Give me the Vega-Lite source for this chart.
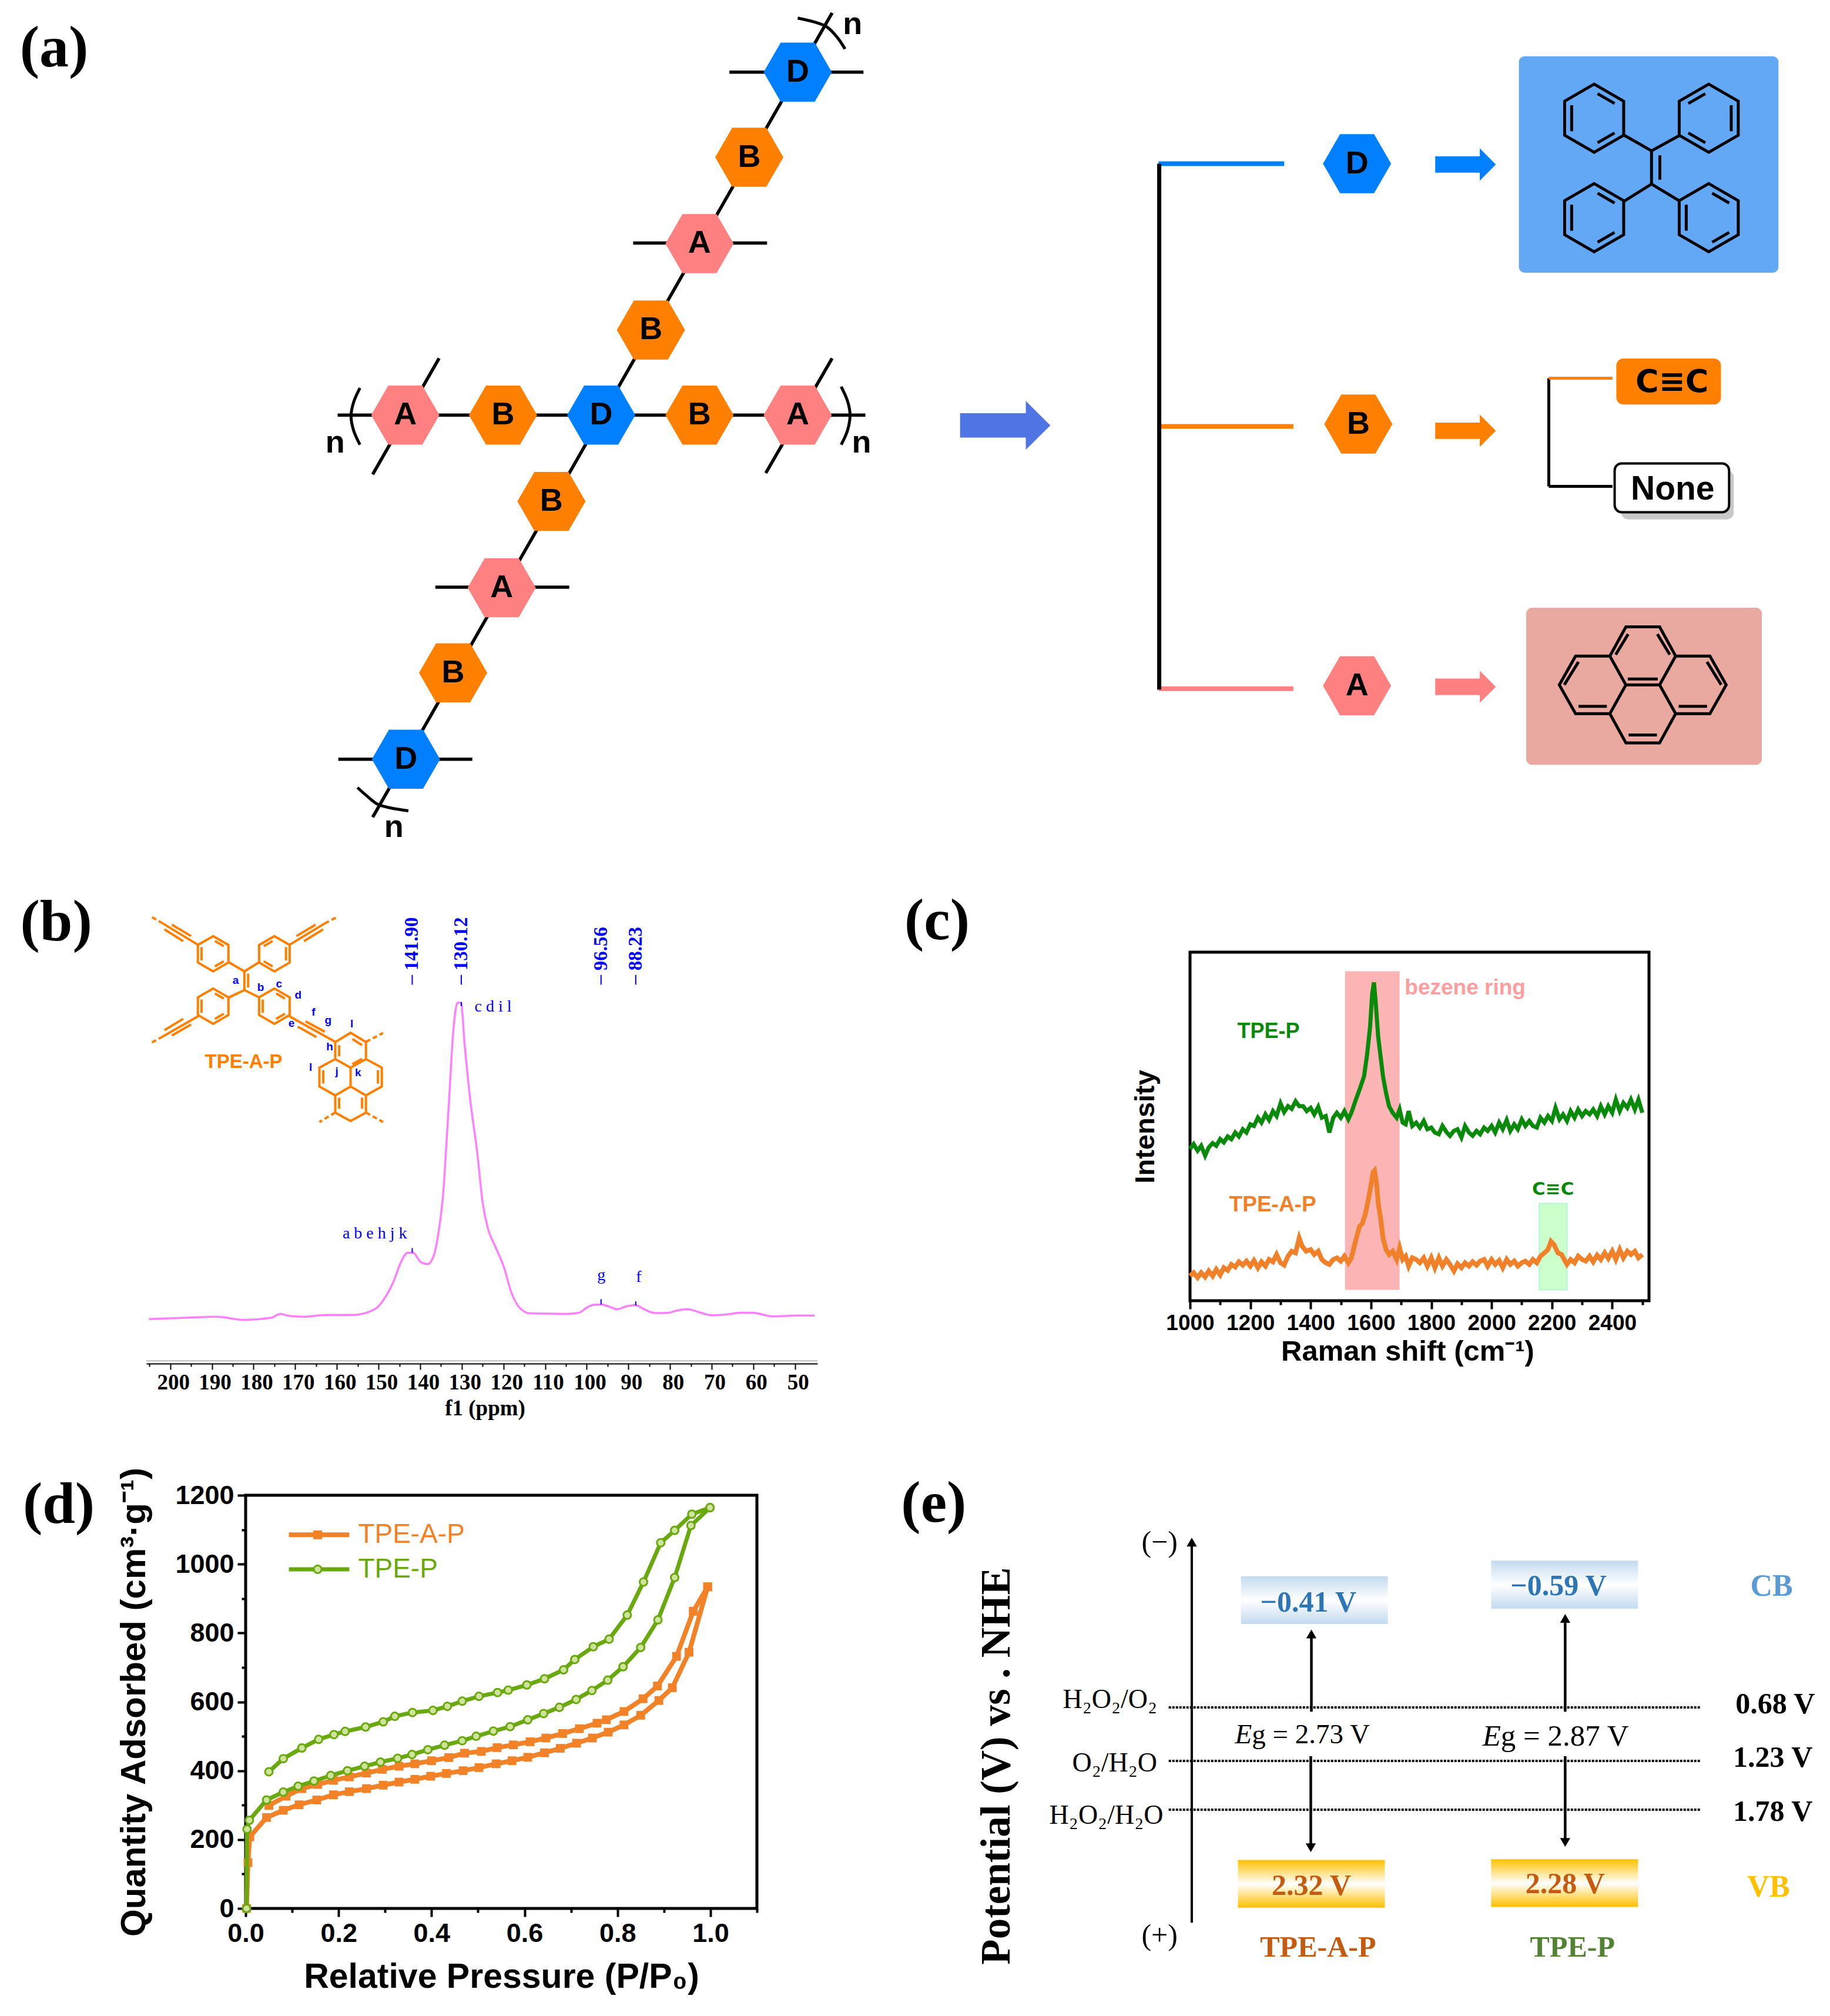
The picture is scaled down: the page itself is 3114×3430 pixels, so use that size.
{
"$schema":"https://vega.github.io/schema/vega-lite/v6.json",
"background":"white","padding":0,"autosize":{"type":"pad"},
"config":{"view":{"stroke":null},"axis":{"grid":false,"labelFlush":false,"labelOverlap":false}},
"bounds":"flush","spacing":0,
"vconcat":[
{"width":3114,"height":1447,
 "encoding":{"x":{"field":"x","type":"quantitative","scale":{"domain":[0,1420],"nice":false,"zero":false},"axis":null},
             "y":{"field":"y","type":"quantitative","scale":{"domain":[659.8,0],"nice":false,"zero":false},"axis":null}},
 "layer":[
  {"data":{"values":[{"x":42,"y":38,"t":"(a)"}]},"mark":{"type":"text","font":"Liberation Serif","fontWeight":"bold","fontSize":100},"encoding":{"text":{"field":"t"}}},
  {"data":{"values":[
    {"x":645.7,"y":10,"x2":289.2,"y2":634},
    {"x":262,"y":322,"x2":671.5,"y2":322},
    {"x":566,"y":56,"x2":670,"y2":56},
    {"x":491.3,"y":188.6,"x2":595.2,"y2":188.6},
    {"x":337.8,"y":455.5,"x2":441.7,"y2":455.5},
    {"x":262.5,"y":589,"x2":366.5,"y2":589},
    {"x":340.7,"y":278,"x2":289.2,"y2":368},
    {"x":645.7,"y":278,"x2":594.2,"y2":367}
   ]},"mark":{"type":"rule","color":"black","strokeWidth":5.5},"encoding":{"x2":{"field":"x2"},"y2":{"field":"y2"}}},
  {"data":{"values":[
    {"k":"l","o":1,"x":279.3,"y":301},{"k":"l","o":2,"x":274.4,"y":312},{"k":"l","o":3,"x":272.4,"y":323},{"k":"l","o":4,"x":274.4,"y":334},{"k":"l","o":5,"x":279.3,"y":345},
    {"k":"r","o":1,"x":652.7,"y":300},{"k":"r","o":2,"x":657.6,"y":311},{"k":"r","o":3,"x":659.6,"y":322},{"k":"r","o":4,"x":657.6,"y":334},{"k":"r","o":5,"x":652.7,"y":345},
    {"k":"t","o":1,"x":619,"y":14},{"k":"t","o":2,"x":631.8,"y":17},{"k":"t","o":3,"x":641.8,"y":21},{"k":"t","o":4,"x":649.7,"y":29},{"k":"t","o":5,"x":655.7,"y":38},
    {"k":"b","o":1,"x":277.4,"y":611},{"k":"b","o":2,"x":285.3,"y":618},{"k":"b","o":3,"x":293.2,"y":624},{"k":"b","o":4,"x":304,"y":627},{"k":"b","o":5,"x":316.9,"y":629}
   ]},"mark":{"type":"line","color":"black","strokeWidth":5,"interpolate":"cardinal"},"encoding":{"detail":{"field":"k"},"order":{"field":"o"}}},
  {"data":{"values":[
    {"x":619,"y":56,"u":"D"},{"x":581.4,"y":122,"u":"B"},{"x":542.8,"y":189,"u":"A"},{"x":505.1,"y":256,"u":"B"},{"x":466.5,"y":322,"u":"D"},
    {"x":542.8,"y":322,"u":"B"},{"x":619,"y":322,"u":"A"},{"x":390.3,"y":322,"u":"B"},{"x":314.5,"y":322,"u":"A"},{"x":427.9,"y":389,"u":"B"},
    {"x":389.3,"y":456,"u":"A"},{"x":351.6,"y":522,"u":"B"},{"x":315,"y":589,"u":"D"},
    {"x":1053,"y":127,"u":"D"},{"x":1054,"y":329,"u":"B"},{"x":1053,"y":532,"u":"A"}
   ]},"layer":[
    {"mark":{"type":"point","shape":"M-1,0L-0.5,-0.866L0.5,-0.866L1,0L0.5,0.866L-0.5,0.866Z","size":13456,"filled":true,"opacity":1},
     "encoding":{"color":{"field":"u","type":"nominal","scale":{"domain":["A","B","D"],"range":["#FF8080","#FF8000","#0080FF"]},"legend":null}}},
    {"mark":{"type":"text","font":"Liberation Sans","fontWeight":"bold","fontSize":54,"color":"black"},"encoding":{"text":{"field":"u"}}}
   ]},
  {"data":{"values":[{"x":661.6,"y":19,"t":"n"},{"x":260,"y":344,"t":"n"},{"x":668.5,"y":344,"t":"n"},{"x":305.6,"y":642,"t":"n"}]},
   "mark":{"type":"text","font":"Liberation Sans","fontWeight":"bold","fontSize":54,"color":"black"},"encoding":{"text":{"field":"t"}}},
  {"data":{"values":[{"x":780,"y":330,"u":"big"}]},"mark":{"type":"point","shape":"M-1,-0.27L0.456,-0.27L0.456,-0.54L1,0L0.456,0.54L0.456,0.27L-1,0.27Z","size":23624,"filled":true,"opacity":1,"color":"#4F74E3"}},
  {"data":{"values":[{"x":899,"y":127,"x2":996.5,"y2":127,"u":"D"},{"x":899,"y":330.8,"x2":1003.6,"y2":330.8,"u":"B"},{"x":899,"y":534.3,"x2":1003.6,"y2":534.3,"u":"A"}]},
   "mark":{"type":"rule","strokeWidth":8},"encoding":{"x2":{"field":"x2"},"color":{"field":"u","type":"nominal","legend":null}}},
  {"data":{"values":[{"x":899.5,"y":127,"y2":535}]},"mark":{"type":"rule","color":"black","strokeWidth":7},"encoding":{"y2":{"field":"y2"}}},
  {"data":{"values":[{"x":1137.2,"y":127.6,"u":"D"},{"x":1137.2,"y":334.2,"u":"B"},{"x":1137.2,"y":532.8,"u":"A"}]},
   "mark":{"type":"point","shape":"M-1,-0.27L0.47,-0.27L0.47,-0.53L1,0L0.47,0.53L0.47,0.27L-1,0.27Z","size":10650,"filled":true,"opacity":1},
   "encoding":{"color":{"field":"u","type":"nominal","legend":null}}},
  {"data":{"values":[{"x":1178.6,"x2":1380,"y":43.7,"y2":211.6}]},"mark":{"type":"rect","color":"#63A8F5","cornerRadius":10},"encoding":{"x2":{"field":"x2"},"y2":{"field":"y2"}}},
  {"data":{"values":[{"x":1184.3,"x2":1367.1,"y":471.5,"y2":593.3}]},"mark":{"type":"rect","color":"#E9A9A0","cornerRadius":10},"encoding":{"x2":{"field":"x2"},"y2":{"field":"y2"}}},
  {"data":{"values":[{"x":1237,"y":91.7},{"x":1237,"y":168.9},{"x":1325.9,"y":168.9}]},
   "mark":{"type":"point","filled":false,"opacity":1,"color":"black","strokeWidth":5,"size":13456,"shape":"M0,-1L0.866,-0.5L0.866,0.5L0,1L-0.866,0.5L-0.866,-0.5ZM0.1,-0.72L0.6,-0.43M0.6,0.43L0.1,0.72M-0.66,0.38L-0.66,-0.38"}},
  {"data":{"values":[{"x":1325.9,"y":91.7}]},
   "mark":{"type":"point","filled":false,"opacity":1,"color":"black","strokeWidth":5,"size":13456,"shape":"M0,-1L0.866,-0.5L0.866,0.5L0,1L-0.866,0.5L-0.866,-0.5ZM-0.1,-0.72L-0.6,-0.43M-0.6,0.43L-0.1,0.72M0.66,0.38L0.66,-0.38"}},
  {"data":{"values":[
    {"x":1260.4,"y":105,"x2":1281.5,"y2":117},{"x":1303.4,"y":105,"x2":1281.5,"y2":117},
    {"x":1260.4,"y":156,"x2":1281.5,"y2":142.8},{"x":1303.4,"y":156,"x2":1281.5,"y2":142.8},
    {"x":1281.5,"y":117,"x2":1281.5,"y2":142.8},{"x":1288,"y":120.5,"x2":1288,"y2":139.4},
    {"x":1201.8,"y":293.4,"x2":1201.8,"y2":377.3},{"x":1201.8,"y":377.3,"x2":1251.2,"y2":377.3}
   ]},"mark":{"type":"rule","color":"black","strokeWidth":5},"encoding":{"x2":{"field":"x2"},"y2":{"field":"y2"}}},
  {"data":{"values":[{"x":1274.7,"y":531.3}]},
   "mark":{"type":"point","filled":false,"opacity":1,"color":"black","strokeWidth":5,"size":80656,
    "shape":"M-0.202,-0.695L0.202,-0.695L0.394,-0.345L0.805,-0.345L1,0L0.805,0.345L0.394,0.345L0.202,0.695L-0.202,0.695L-0.394,0.345L-0.805,0.345L-1,0L-0.805,-0.345L-0.394,-0.345ZM-0.394,-0.345L-0.202,0L-0.394,0.345M0.394,-0.345L0.202,0L0.394,0.345M-0.202,0L0.202,0M-0.324,-0.362L-0.175,-0.608M0.324,-0.362L0.175,-0.608M-0.18,-0.07L0.18,-0.07M-0.94,0L-0.77,-0.275M0.94,0L0.77,-0.275M-0.77,0.257L-0.43,0.257M0.77,0.257L0.43,0.257M-0.17,0.6L0.17,0.6"}},
  {"data":{"values":[{"x":1201.8,"y":293.4,"x2":1251.2,"y2":293.4}]},"mark":{"type":"rule","color":"#FF8000","strokeWidth":5},"encoding":{"x2":{"field":"x2"}}},
  {"data":{"values":[{"x":1254.2,"x2":1335.4,"y":278.2,"y2":313.8}]},"mark":{"type":"rect","color":"#FF8000","cornerRadius":12},"encoding":{"x2":{"field":"x2"},"y2":{"field":"y2"}}},
  {"data":{"values":[{"x":1258.1,"x2":1345.3,"y":365,"y2":403}]},"mark":{"type":"rect","color":"#C8C8C8","cornerRadius":12},"encoding":{"x2":{"field":"x2"},"y2":{"field":"y2"}}},
  {"data":{"values":[{"x":1252.9,"x2":1341.7,"y":359.5,"y2":397.4}]},"mark":{"type":"rect","color":"white","stroke":"black","strokeWidth":4,"cornerRadius":12},"encoding":{"x2":{"field":"x2"},"y2":{"field":"y2"}}},
  {"data":{"values":[{"x":1297.4,"y":297,"t":"C≡C"}]},"mark":{"type":"text","font":"DejaVu Sans","fontWeight":"bold","fontSize":54,"color":"black"},"encoding":{"text":{"field":"t"}}},
  {"data":{"values":[{"x":1297.9,"y":380,"t":"None"}]},"mark":{"type":"text","font":"Liberation Sans","fontWeight":"bold","fontSize":57,"color":"black"},"encoding":{"text":{"field":"t"}}}
 ]},
{"width":3114,"height":173,"data":{"values":[]},"mark":"text"},
{"bounds":"flush","spacing":0,"hconcat":[
 {"width":249,"height":1,"data":{"values":[]},"mark":"text"},
 {"width":1142,"height":700,
  "encoding":{
   "x":{"field":"ppm","type":"quantitative","scale":{"domain":[205.75,44.6],"nice":false,"zero":false},
    "axis":{"title":"f1 (ppm)","titleFont":"Liberation Serif","titleFontSize":37,"titleFontWeight":"bold","titleColor":"black","titlePadding":8,"titleX":576,
     "labelFont":"Liberation Serif","labelFontSize":37,"labelFontWeight":"bold","labelColor":"black","labelPadding":4,"labelOffset":5,
     "values":[50,55,60,65,70,75,80,85,90,95,100,105,110,115,120,125,130,135,140,145,150,155,160,165,170,175,180,185,190,195,200,205],
     "labelExpr":"datum.value % 10 == 0 ? datum.label : ''",
     "tickSize":{"condition":{"test":"datum.value % 10 == 0","value":10},"value":5},"tickColor":"black","tickWidth":2,"domainColor":"black","domainWidth":2}},
   "y":{"field":"intensity","type":"quantitative","scale":{"domain":[-14.5,115.8],"nice":false,"zero":false},"axis":null}},
  "layer":[
   {"data":{"values":[{"ppm":227.4,"intensity":125.2,"t":"(b)"}]},"mark":{"type":"text","font":"Liberation Serif","fontWeight":"bold","fontSize":100},"encoding":{"text":{"field":"t"}}},
   {"data":{"values":[{"ppm":205.75,"ppm2":44.6,"intensity":-13.6}]},"mark":{"type":"rule","color":"#BDBDBD","strokeWidth":2},"encoding":{"x2":{"field":"ppm2"}}},
   {"data":{"values":[
    {"ppm":205.1,"intensity":-0.4},{"ppm":196.6,"intensity":0},{"ppm":188.8,"intensity":0.35},{"ppm":182.2,"intensity":-0.67},{"ppm":175.7,"intensity":0},{"ppm":173.6,"intensity":1.25},{"ppm":171.8,"intensity":0.69},{"ppm":167.9,"intensity":0.35},{"ppm":162.6,"intensity":0.91},{"ppm":156.1,"intensity":0.91},{"ppm":150.9,"intensity":2.72},{"ppm":148.3,"intensity":6.67},{"ppm":146.3,"intensity":11.8},{"ppm":144.7,"intensity":17.4},{"ppm":143,"intensity":20.6},{"ppm":141.7,"intensity":20.6},{"ppm":139.8,"intensity":17.6},{"ppm":138.2,"intensity":17},{"ppm":136.9,"intensity":19.1},{"ppm":135.8,"intensity":25.3},{"ppm":134.5,"intensity":38.8},{"ppm":133.2,"intensity":65.9},{"ppm":131.9,"intensity":93},{"ppm":131,"intensity":99.8},{"ppm":130.2,"intensity":99.8},{"ppm":129.3,"intensity":86.3},{"ppm":128,"intensity":69.3},{"ppm":126.3,"intensity":52.4},{"ppm":125,"intensity":36.6},{"ppm":123.7,"intensity":28.1},{"ppm":122.1,"intensity":23},{"ppm":119.8,"intensity":15.7},{"ppm":118.2,"intensity":8.4},{"ppm":116.2,"intensity":3.3},{"ppm":113.6,"intensity":1.4},{"ppm":105.1,"intensity":1.25},{"ppm":101.9,"intensity":1.6},{"ppm":99.9,"intensity":3.3},{"ppm":98.3,"intensity":4.1},{"ppm":96.6,"intensity":4.2},{"ppm":94.7,"intensity":3.6},{"ppm":92.7,"intensity":2.7},{"ppm":90.8,"intensity":3.5},{"ppm":88.4,"intensity":4},{"ppm":86.2,"intensity":2.7},{"ppm":83.6,"intensity":1.5},{"ppm":80.3,"intensity":1.6},{"ppm":78.4,"intensity":2.3},{"ppm":75.7,"intensity":2.7},{"ppm":73.1,"intensity":1.8},{"ppm":69.9,"intensity":0.8},{"ppm":65.3,"intensity":1.25},{"ppm":63.3,"intensity":1.6},{"ppm":60.1,"intensity":1.6},{"ppm":55.5,"intensity":0.5},{"ppm":49.6,"intensity":0.7},{"ppm":45.3,"intensity":0.7}
    ]},"mark":{"type":"line","color":"#FF80FF","strokeWidth":3.5,"interpolate":"monotone"}},
   {"data":{"values":[
    {"ppm":141.9,"intensity":108.6,"i2":105.5},{"ppm":130.12,"intensity":108.6,"i2":105.5},{"ppm":96.56,"intensity":108.6,"i2":105.5},{"ppm":88.23,"intensity":108.6,"i2":105.5},
    {"ppm":141.9,"intensity":22.1,"i2":20.6},{"ppm":130.12,"intensity":100,"i2":98.7},{"ppm":96.56,"intensity":5.9,"i2":4.2},{"ppm":88.23,"intensity":5.2,"i2":3.9}
    ]},"mark":{"type":"rule","color":"#0000FF","strokeWidth":2},"encoding":{"y2":{"field":"i2"}}},
   {"data":{"values":[{"ppm":141.9,"intensity":110,"t":"141.90"},{"ppm":130.12,"intensity":110,"t":"130.12"},{"ppm":96.56,"intensity":110,"t":"96.56"},{"ppm":88.23,"intensity":110,"t":"88.23"}]},
    "mark":{"type":"text","font":"Liberation Serif","fontWeight":"bold","fontSize":33,"color":"#0000FF","angle":270,"align":"left","baseline":"middle"},"encoding":{"text":{"field":"t"}}},
   {"data":{"values":[{"ppm":150.9,"intensity":26.7,"t":"a b e h j k"},{"ppm":122.5,"intensity":98.5,"t":"c d i l"},{"ppm":96.5,"intensity":13.4,"t":"g"},{"ppm":87.5,"intensity":12.9,"t":"f"}]},
    "mark":{"type":"text","font":"Liberation Serif","fontSize":28,"color":"#0000FF"},"encoding":{"text":{"field":"t"}}},
   {"data":{"values":[{"ppm":189.7,"intensity":115.3},{"ppm":189.7,"intensity":98.7},{"ppm":175,"intensity":98.7}]},
    "mark":{"type":"point","filled":false,"opacity":1,"color":"#FF8000","strokeWidth":4,"size":3600,"shape":"M0,-1L0.866,-0.5L0.866,0.5L0,1L-0.866,0.5L-0.866,-0.5ZM0.1,-0.72L0.6,-0.43M0.6,0.43L0.1,0.72M-0.66,0.38L-0.66,-0.38"}},
   {"data":{"values":[{"ppm":175,"intensity":115.3}]},
    "mark":{"type":"point","filled":false,"opacity":1,"color":"#FF8000","strokeWidth":4,"size":3600,"shape":"M0,-1L0.866,-0.5L0.866,0.5L0,1L-0.866,0.5L-0.866,-0.5ZM-0.1,-0.72L-0.6,-0.43M-0.6,0.43L-0.1,0.72M0.66,0.38L0.66,-0.38"}},
   {"data":{"values":[{"ppm":156.7,"intensity":76.3}]},
    "mark":{"type":"point","filled":false,"opacity":1,"color":"#FF8000","strokeWidth":4,"size":22500,
     "shape":"M-0.348,-0.79L0,-1L0.348,-0.79L0.348,-0.404L0.708,-0.21L0.708,0.218L0.348,0.42L0.348,0.81L0,1L-0.348,0.81L-0.348,0.42L-0.708,0.218L-0.708,-0.21L-0.348,-0.404ZM-0.348,-0.404L0,-0.21L0.348,-0.404M0,-0.21L0,0.218M-0.348,0.42L0,0.218L0.348,0.42M0.04,-0.86L0.26,-0.72M-0.26,-0.72L-0.26,-0.47M0.04,-0.29L0.26,-0.41M-0.62,-0.15L-0.62,0.15M0.62,-0.15L0.62,0.15M-0.26,0.47L-0.26,0.72M0.26,0.47L0.26,0.72"}},
   {"data":{"values":[
    {"ppm":182.2,"intensity":109.7,"p2":182.2,"i2":103.8},{"ppm":181.3,"intensity":109,"p2":181.3,"i2":104.6},
    {"ppm":185.9,"intensity":112.6,"p2":182.2,"i2":109.7},{"ppm":178.7,"intensity":112.6,"p2":182.2,"i2":109.7},
    {"ppm":185.9,"intensity":101.5,"p2":182.2,"i2":103.8},{"ppm":178.7,"intensity":101.5,"p2":182.2,"i2":103.8},
    {"ppm":193.3,"intensity":118.1,"p2":201.8,"i2":124.9},{"ppm":195,"intensity":120.9,"p2":199.6,"i2":124.5},{"ppm":196.9,"intensity":119.3,"p2":201.4,"i2":123},
    {"ppm":171.4,"intensity":118.1,"p2":162.9,"i2":124.9},{"ppm":169.7,"intensity":120.9,"p2":165.1,"i2":124.5},{"ppm":167.9,"intensity":119.3,"p2":163.3,"i2":123},
    {"ppm":193.3,"intensity":95.5,"p2":201.8,"i2":89.1},{"ppm":196.9,"intensity":94.7,"p2":201.4,"i2":91.1},{"ppm":195,"intensity":92.9,"p2":199.6,"i2":89.4},
    {"ppm":171.4,"intensity":95.5,"p2":160.4,"i2":87.4},{"ppm":167.5,"intensity":93.9,"p2":162.9,"i2":90.6},{"ppm":169.4,"intensity":92.2,"p2":164.9,"i2":88.9}
    ]},"mark":{"type":"rule","color":"#FF8000","strokeWidth":4},"encoding":{"x2":{"field":"p2"},"y2":{"field":"i2"}}},
   {"data":{"values":[
    {"ppm":201.8,"intensity":124.9,"p2":204.4,"i2":126.9},{"ppm":162.9,"intensity":124.9,"p2":160,"i2":126.9},{"ppm":201.8,"intensity":89.1,"p2":204.4,"i2":87.2},
    {"ppm":153,"intensity":87.4,"p2":148.9,"i2":90.2},{"ppm":160.4,"intensity":65,"p2":164.2,"i2":62},{"ppm":153,"intensity":65,"p2":148.9,"i2":62}
    ]},"mark":{"type":"rule","color":"#FF8000","strokeWidth":4,"strokeDash":[8,5]},"encoding":{"x2":{"field":"p2"},"y2":{"field":"i2"}}},
   {"data":{"values":[
    {"ppm":184.3,"intensity":106.8,"t":"a"},{"ppm":178.3,"intensity":104.7,"t":"b"},{"ppm":173.9,"intensity":105.7,"t":"c"},{"ppm":169.3,"intensity":102.3,"t":"d"},{"ppm":170.9,"intensity":93.3,"t":"e"},{"ppm":165.6,"intensity":96.8,"t":"f"},{"ppm":162.1,"intensity":94.3,"t":"g"},{"ppm":156.4,"intensity":93,"t":"l"},{"ppm":161.7,"intensity":85.9,"t":"h"},{"ppm":166.3,"intensity":79.3,"t":"l"},{"ppm":160,"intensity":78,"t":"j"},{"ppm":154.9,"intensity":77.6,"t":"k"}
    ]},"mark":{"type":"text","font":"Liberation Sans","fontWeight":"bold","fontSize":19,"color":"#0000FF"},"encoding":{"text":{"field":"t"}}},
   {"data":{"values":[{"ppm":182.4,"intensity":81,"t":"TPE-A-P"}]},"mark":{"type":"text","font":"Liberation Sans","fontWeight":"bold","fontSize":33,"color":"#FF8000"},"encoding":{"text":{"field":"t"}}}
  ]},
 {"width":634,"height":1,"data":{"values":[]},"mark":"text"},
 {"width":781,"height":593,"view":{"stroke":"black","strokeWidth":5},
  "encoding":{
   "x":{"field":"shift","type":"quantitative","scale":{"domain":[1000,2522],"nice":false,"zero":false},
    "axis":{"title":"Raman shift (cm⁻¹)","titleFont":"Liberation Sans","titleFontSize":49,"titleFontWeight":"bold","titleColor":"black","titlePadding":6,"titleX":370,
     "labelFont":"Liberation Sans","labelFontSize":37,"labelFontWeight":"bold","labelColor":"black","labelPadding":6,
     "values":[1000,1100,1200,1300,1400,1500,1600,1700,1800,1900,2000,2100,2200,2300,2400,2500],
     "labelExpr":"datum.value % 200 == 0 ? datum.label : ''","format":"d",
     "tickSize":{"condition":{"test":"datum.value % 200 == 0","value":14},"value":7},"tickColor":"black","tickWidth":4,"domain":false}},
   "y":{"field":"intensity","type":"quantitative","scale":{"domain":[0,1057],"nice":false,"zero":false},
    "axis":{"title":"Intensity","titleFont":"Liberation Sans","titleFontSize":47,"titleFontWeight":"bold","titleColor":"black","titlePadding":52,"labels":false,"ticks":false,"domain":false}}},
  "layer":[
   {"data":{"values":[{"shift":161,"intensity":1150,"t":"(c)"}]},"mark":{"type":"text","font":"Liberation Serif","fontWeight":"bold","fontSize":100},"encoding":{"text":{"field":"t"}}},
   {"data":{"values":[{"shift":1514,"s2":1695,"intensity":999,"i2":33}]},"mark":{"type":"rect","color":"#FDB4B4"},"encoding":{"x2":{"field":"s2"},"y2":{"field":"i2"}}},
   {"data":{"values":[{"shift":2158,"s2":2250,"intensity":295,"i2":33}]},"mark":{"type":"rect","color":"#CCFFCC","stroke":"#B4F5DC","strokeWidth":2},"encoding":{"x2":{"field":"s2"},"y2":{"field":"i2"}}},
   {"data":{"values":[
{"shift":1000,"intensity":460},{"shift":1012,"intensity":475},{"shift":1025,"intensity":455},{"shift":1037,"intensity":470},{"shift":1050,"intensity":440},{"shift":1062,"intensity":465},{"shift":1075,"intensity":478},{"shift":1087,"intensity":470},{"shift":1100,"intensity":490},{"shift":1112,"intensity":480},{"shift":1125,"intensity":498},{"shift":1137,"intensity":490},{"shift":1150,"intensity":510},{"shift":1162,"intensity":498},{"shift":1175,"intensity":520},{"shift":1187,"intensity":510},{"shift":1200,"intensity":535},{"shift":1212,"intensity":530},{"shift":1225,"intensity":555},{"shift":1237,"intensity":540},{"shift":1250,"intensity":565},{"shift":1262,"intensity":548},{"shift":1275,"intensity":575},{"shift":1287,"intensity":560},{"shift":1300,"intensity":598},{"shift":1312,"intensity":572},{"shift":1325,"intensity":590},{"shift":1337,"intensity":582},{"shift":1350,"intensity":605},{"shift":1362,"intensity":590},{"shift":1375,"intensity":590},{"shift":1387,"intensity":575},{"shift":1400,"intensity":585},{"shift":1412,"intensity":565},{"shift":1425,"intensity":588},{"shift":1437,"intensity":555},{"shift":1450,"intensity":560},{"shift":1462,"intensity":510},{"shift":1475,"intensity":555},{"shift":1487,"intensity":570},{"shift":1500,"intensity":555},{"shift":1512,"intensity":575},{"shift":1525,"intensity":550},{"shift":1535,"intensity":570},{"shift":1550,"intensity":610},{"shift":1562,"intensity":640},{"shift":1577,"intensity":680},{"shift":1587,"intensity":745},{"shift":1597,"intensity":830},{"shift":1604,"intensity":930},{"shift":1610,"intensity":965},{"shift":1616,"intensity":900},{"shift":1624,"intensity":800},{"shift":1632,"intensity":740},{"shift":1640,"intensity":680},{"shift":1650,"intensity":630},{"shift":1660,"intensity":590},{"shift":1672,"intensity":570},{"shift":1685,"intensity":555},{"shift":1695,"intensity":580},{"shift":1705,"intensity":540},{"shift":1715,"intensity":535},{"shift":1725,"intensity":575},{"shift":1737,"intensity":530},{"shift":1750,"intensity":540},{"shift":1762,"intensity":525},{"shift":1775,"intensity":545},{"shift":1787,"intensity":520},{"shift":1800,"intensity":525},{"shift":1812,"intensity":510},{"shift":1825,"intensity":505},{"shift":1837,"intensity":530},{"shift":1850,"intensity":512},{"shift":1862,"intensity":500},{"shift":1875,"intensity":515},{"shift":1887,"intensity":520},{"shift":1900,"intensity":495},{"shift":1912,"intensity":530},{"shift":1925,"intensity":510},{"shift":1937,"intensity":500},{"shift":1950,"intensity":515},{"shift":1962,"intensity":505},{"shift":1975,"intensity":525},{"shift":1987,"intensity":515},{"shift":2000,"intensity":530},{"shift":2012,"intensity":510},{"shift":2025,"intensity":540},{"shift":2037,"intensity":520},{"shift":2050,"intensity":548},{"shift":2062,"intensity":515},{"shift":2075,"intensity":535},{"shift":2087,"intensity":520},{"shift":2100,"intensity":550},{"shift":2112,"intensity":530},{"shift":2125,"intensity":545},{"shift":2137,"intensity":530},{"shift":2150,"intensity":525},{"shift":2162,"intensity":555},{"shift":2175,"intensity":540},{"shift":2187,"intensity":560},{"shift":2200,"intensity":545},{"shift":2212,"intensity":585},{"shift":2225,"intensity":550},{"shift":2237,"intensity":565},{"shift":2250,"intensity":545},{"shift":2262,"intensity":575},{"shift":2275,"intensity":555},{"shift":2287,"intensity":580},{"shift":2300,"intensity":560},{"shift":2312,"intensity":575},{"shift":2325,"intensity":565},{"shift":2337,"intensity":580},{"shift":2350,"intensity":560},{"shift":2362,"intensity":590},{"shift":2375,"intensity":565},{"shift":2387,"intensity":590},{"shift":2400,"intensity":570},{"shift":2412,"intensity":610},{"shift":2425,"intensity":575},{"shift":2437,"intensity":600},{"shift":2450,"intensity":585},{"shift":2462,"intensity":610},{"shift":2475,"intensity":580},{"shift":2487,"intensity":610},{"shift":2500,"intensity":570}
    ]},"mark":{"type":"line","color":"#0A8A0A","strokeWidth":7}},
   {"data":{"values":[
{"shift":1000,"intensity":75},{"shift":1012,"intensity":85},{"shift":1025,"intensity":70},{"shift":1037,"intensity":85},{"shift":1050,"intensity":72},{"shift":1062,"intensity":90},{"shift":1075,"intensity":75},{"shift":1087,"intensity":95},{"shift":1100,"intensity":78},{"shift":1112,"intensity":100},{"shift":1125,"intensity":92},{"shift":1137,"intensity":110},{"shift":1150,"intensity":102},{"shift":1162,"intensity":118},{"shift":1175,"intensity":108},{"shift":1187,"intensity":120},{"shift":1200,"intensity":105},{"shift":1212,"intensity":122},{"shift":1225,"intensity":100},{"shift":1237,"intensity":118},{"shift":1250,"intensity":105},{"shift":1262,"intensity":125},{"shift":1275,"intensity":118},{"shift":1287,"intensity":140},{"shift":1300,"intensity":115},{"shift":1312,"intensity":108},{"shift":1325,"intensity":135},{"shift":1337,"intensity":150},{"shift":1350,"intensity":145},{"shift":1362,"intensity":190},{"shift":1372,"intensity":165},{"shift":1385,"intensity":150},{"shift":1400,"intensity":155},{"shift":1412,"intensity":140},{"shift":1425,"intensity":150},{"shift":1437,"intensity":125},{"shift":1450,"intensity":115},{"shift":1462,"intensity":110},{"shift":1475,"intensity":125},{"shift":1487,"intensity":130},{"shift":1500,"intensity":120},{"shift":1512,"intensity":135},{"shift":1525,"intensity":115},{"shift":1535,"intensity":130},{"shift":1550,"intensity":185},{"shift":1562,"intensity":225},{"shift":1572,"intensity":235},{"shift":1582,"intensity":265},{"shift":1592,"intensity":310},{"shift":1600,"intensity":350},{"shift":1607,"intensity":390},{"shift":1612,"intensity":395},{"shift":1618,"intensity":360},{"shift":1625,"intensity":290},{"shift":1632,"intensity":250},{"shift":1640,"intensity":190},{"shift":1650,"intensity":155},{"shift":1660,"intensity":140},{"shift":1672,"intensity":150},{"shift":1685,"intensity":125},{"shift":1695,"intensity":160},{"shift":1705,"intensity":125},{"shift":1715,"intensity":135},{"shift":1725,"intensity":105},{"shift":1737,"intensity":130},{"shift":1750,"intensity":125},{"shift":1762,"intensity":115},{"shift":1775,"intensity":130},{"shift":1787,"intensity":105},{"shift":1800,"intensity":130},{"shift":1812,"intensity":100},{"shift":1825,"intensity":130},{"shift":1837,"intensity":105},{"shift":1850,"intensity":125},{"shift":1862,"intensity":110},{"shift":1875,"intensity":90},{"shift":1887,"intensity":112},{"shift":1900,"intensity":100},{"shift":1912,"intensity":115},{"shift":1925,"intensity":105},{"shift":1937,"intensity":118},{"shift":1950,"intensity":108},{"shift":1962,"intensity":120},{"shift":1975,"intensity":125},{"shift":1987,"intensity":105},{"shift":2000,"intensity":125},{"shift":2012,"intensity":110},{"shift":2025,"intensity":122},{"shift":2037,"intensity":100},{"shift":2050,"intensity":125},{"shift":2062,"intensity":110},{"shift":2075,"intensity":120},{"shift":2087,"intensity":105},{"shift":2100,"intensity":115},{"shift":2112,"intensity":120},{"shift":2125,"intensity":110},{"shift":2137,"intensity":125},{"shift":2150,"intensity":115},{"shift":2162,"intensity":135},{"shift":2175,"intensity":145},{"shift":2187,"intensity":155},{"shift":2197,"intensity":180},{"shift":2207,"intensity":170},{"shift":2220,"intensity":145},{"shift":2232,"intensity":140},{"shift":2250,"intensity":110},{"shift":2262,"intensity":125},{"shift":2275,"intensity":115},{"shift":2287,"intensity":135},{"shift":2300,"intensity":125},{"shift":2312,"intensity":120},{"shift":2325,"intensity":135},{"shift":2337,"intensity":118},{"shift":2350,"intensity":138},{"shift":2362,"intensity":125},{"shift":2375,"intensity":145},{"shift":2387,"intensity":128},{"shift":2400,"intensity":150},{"shift":2412,"intensity":125},{"shift":2425,"intensity":155},{"shift":2437,"intensity":130},{"shift":2450,"intensity":150},{"shift":2462,"intensity":140},{"shift":2475,"intensity":150},{"shift":2487,"intensity":130},{"shift":2500,"intensity":140}
    ]},"mark":{"type":"line","color":"#F0812A","strokeWidth":8}},
   {"data":{"values":[{"shift":1712,"intensity":948,"t":"bezene ring"}]},"mark":{"type":"text","align":"left","font":"Liberation Sans","fontWeight":"bold","fontSize":37,"color":"#FF9E9E"},"encoding":{"text":{"field":"t"}}},
   {"data":{"values":[{"shift":1260,"intensity":817,"t":"TPE-P"}]},"mark":{"type":"text","font":"Liberation Sans","fontWeight":"bold","fontSize":36,"color":"#0A8A0A"},"encoding":{"text":{"field":"t"}}},
   {"data":{"values":[{"shift":2204,"intensity":337,"t":"C≡C"}]},"mark":{"type":"text","font":"DejaVu Sans","fontWeight":"bold","fontSize":31,"color":"#0A8A0A"},"encoding":{"text":{"field":"t"}}},
   {"data":{"values":[{"shift":1274,"intensity":290,"t":"TPE-A-P"}]},"mark":{"type":"text","font":"Liberation Sans","fontWeight":"bold","fontSize":37,"color":"#F0812A"},"encoding":{"text":{"field":"t"}}}
  ]}
]},
{"width":3114,"height":924,"data":{"values":[]},"mark":"text"},
{"bounds":"flush","spacing":0,"hconcat":[
 {"width":418,"height":1,"data":{"values":[]},"mark":"text"},
 {"width":870,"height":703,"view":{"stroke":"black","strokeWidth":5},
  "encoding":{
   "x":{"field":"pressure","type":"quantitative","scale":{"domain":[0,1.1],"nice":false,"zero":false},
    "axis":{"title":"Relative Pressure (P/P₀)","titleFont":"Liberation Sans","titleFontSize":59,"titleFontWeight":"bold","titleColor":"black","titlePadding":22,
     "labelFont":"Liberation Sans","labelFontSize":45,"labelFontWeight":"bold","labelColor":"black","labelPadding":6,"format":".1f",
     "values":[0,0.1,0.2,0.3,0.4,0.5,0.6,0.7,0.8,0.9,1.0,1.1],
     "labelExpr":"round(datum.value*10) % 2 == 0 && datum.value < 1.05 ? datum.label : ''",
     "tickSize":{"condition":{"test":"round(datum.value*10) % 2 == 0","value":14},"value":7},"tickColor":"black","tickWidth":4,"domain":false}},
   "y":{"field":"adsorbed","type":"quantitative","scale":{"domain":[0,1200],"nice":false,"zero":false},
    "axis":{"title":"Quantity Adsorbed (cm³·g⁻¹)","titleFont":"Liberation Sans","titleFontSize":60,"titleFontWeight":"bold","titleColor":"black","titlePadding":38,"format":"d",
     "labelFont":"Liberation Sans","labelFontSize":45,"labelFontWeight":"bold","labelColor":"black","labelPadding":6,
     "values":[0,100,200,300,400,500,600,700,800,900,1000,1100,1200],
     "labelExpr":"datum.value % 200 == 0 ? datum.label : ''",
     "tickSize":{"condition":{"test":"datum.value % 200 == 0","value":14},"value":7},"tickColor":"black","tickWidth":4,"domain":false}}},
  "layer":[
   {"data":{"values":[{"pressure":-0.402,"adsorbed":1171,"t":"(d)"}]},"mark":{"type":"text","font":"Liberation Serif","fontWeight":"bold","fontSize":100},"encoding":{"text":{"field":"t"}}},
   {"data":{"values":[
{"branch":"ads","pressure":0.002,"adsorbed":0},{"branch":"ads","pressure":0.005,"adsorbed":133},{"branch":"ads","pressure":0.009,"adsorbed":208},{"branch":"ads","pressure":0.045,"adsorbed":264},{"branch":"ads","pressure":0.081,"adsorbed":285},{"branch":"ads","pressure":0.115,"adsorbed":301},{"branch":"ads","pressure":0.153,"adsorbed":315},{"branch":"ads","pressure":0.189,"adsorbed":330},{"branch":"ads","pressure":0.223,"adsorbed":339},{"branch":"ads","pressure":0.26,"adsorbed":348},{"branch":"ads","pressure":0.296,"adsorbed":358},{"branch":"ads","pressure":0.33,"adsorbed":367},{"branch":"ads","pressure":0.364,"adsorbed":375},{"branch":"ads","pressure":0.398,"adsorbed":384},{"branch":"ads","pressure":0.432,"adsorbed":392},{"branch":"ads","pressure":0.468,"adsorbed":400},{"branch":"ads","pressure":0.502,"adsorbed":409},{"branch":"ads","pressure":0.539,"adsorbed":420},{"branch":"ads","pressure":0.573,"adsorbed":429},{"branch":"ads","pressure":0.607,"adsorbed":439},{"branch":"ads","pressure":0.643,"adsorbed":452},{"branch":"ads","pressure":0.677,"adsorbed":465},{"branch":"ads","pressure":0.712,"adsorbed":480},{"branch":"ads","pressure":0.746,"adsorbed":495},{"branch":"ads","pressure":0.78,"adsorbed":512},{"branch":"ads","pressure":0.814,"adsorbed":533},{"branch":"ads","pressure":0.85,"adsorbed":561},{"branch":"ads","pressure":0.889,"adsorbed":604},{"branch":"ads","pressure":0.918,"adsorbed":641},{"branch":"ads","pressure":0.954,"adsorbed":744},{"branch":"ads","pressure":0.994,"adsorbed":934},
{"branch":"des","pressure":0.994,"adsorbed":934},{"branch":"des","pressure":0.963,"adsorbed":863},{"branch":"des","pressure":0.927,"adsorbed":732},{"branch":"des","pressure":0.886,"adsorbed":646},{"branch":"des","pressure":0.855,"adsorbed":609},{"branch":"des","pressure":0.814,"adsorbed":572},{"branch":"des","pressure":0.776,"adsorbed":548},{"branch":"des","pressure":0.756,"adsorbed":538},{"branch":"des","pressure":0.718,"adsorbed":522},{"branch":"des","pressure":0.682,"adsorbed":508},{"branch":"des","pressure":0.646,"adsorbed":495},{"branch":"des","pressure":0.612,"adsorbed":484},{"branch":"des","pressure":0.576,"adsorbed":475},{"branch":"des","pressure":0.541,"adsorbed":467},{"branch":"des","pressure":0.507,"adsorbed":456},{"branch":"des","pressure":0.471,"adsorbed":451},{"branch":"des","pressure":0.437,"adsorbed":438},{"branch":"des","pressure":0.4,"adsorbed":429},{"branch":"des","pressure":0.364,"adsorbed":420},{"branch":"des","pressure":0.33,"adsorbed":413},{"branch":"des","pressure":0.294,"adsorbed":404},{"branch":"des","pressure":0.26,"adsorbed":393},{"branch":"des","pressure":0.223,"adsorbed":382},{"branch":"des","pressure":0.189,"adsorbed":372},{"branch":"des","pressure":0.155,"adsorbed":360},{"branch":"des","pressure":0.121,"adsorbed":348},{"branch":"des","pressure":0.087,"adsorbed":326},{"branch":"des","pressure":0.05,"adsorbed":299}
    ]},"layer":[
     {"mark":{"type":"line","color":"#F28228","strokeWidth":8},"encoding":{"detail":{"field":"branch"}}},
     {"mark":{"type":"square","color":"#F28228","size":220,"opacity":1}}
    ]},
   {"data":{"values":[
{"branch":"ads","pressure":0.002,"adsorbed":0},{"branch":"ads","pressure":0.003,"adsorbed":230},{"branch":"ads","pressure":0.008,"adsorbed":256},{"branch":"ads","pressure":0.045,"adsorbed":315},{"branch":"ads","pressure":0.081,"adsorbed":338},{"branch":"ads","pressure":0.113,"adsorbed":355},{"branch":"ads","pressure":0.147,"adsorbed":370},{"branch":"ads","pressure":0.183,"adsorbed":386},{"branch":"ads","pressure":0.219,"adsorbed":400},{"branch":"ads","pressure":0.256,"adsorbed":413},{"branch":"ads","pressure":0.29,"adsorbed":425},{"branch":"ads","pressure":0.327,"adsorbed":436},{"branch":"ads","pressure":0.358,"adsorbed":447},{"branch":"ads","pressure":0.392,"adsorbed":461},{"branch":"ads","pressure":0.428,"adsorbed":474},{"branch":"ads","pressure":0.466,"adsorbed":487},{"branch":"ads","pressure":0.496,"adsorbed":500},{"branch":"ads","pressure":0.533,"adsorbed":515},{"branch":"ads","pressure":0.569,"adsorbed":528},{"branch":"ads","pressure":0.607,"adsorbed":548},{"branch":"ads","pressure":0.641,"adsorbed":566},{"branch":"ads","pressure":0.675,"adsorbed":584},{"branch":"ads","pressure":0.711,"adsorbed":607},{"branch":"ads","pressure":0.745,"adsorbed":633},{"branch":"ads","pressure":0.779,"adsorbed":663},{"branch":"ads","pressure":0.812,"adsorbed":702},{"branch":"ads","pressure":0.85,"adsorbed":758},{"branch":"ads","pressure":0.887,"adsorbed":838},{"branch":"ads","pressure":0.923,"adsorbed":961},{"branch":"ads","pressure":0.958,"adsorbed":1112},{"branch":"ads","pressure":0.999,"adsorbed":1164},
{"branch":"des","pressure":0.999,"adsorbed":1164},{"branch":"des","pressure":0.96,"adsorbed":1145},{"branch":"des","pressure":0.923,"adsorbed":1098},{"branch":"des","pressure":0.893,"adsorbed":1062},{"branch":"des","pressure":0.856,"adsorbed":948},{"branch":"des","pressure":0.821,"adsorbed":852},{"branch":"des","pressure":0.782,"adsorbed":782},{"branch":"des","pressure":0.748,"adsorbed":760},{"branch":"des","pressure":0.708,"adsorbed":723},{"branch":"des","pressure":0.684,"adsorbed":693},{"branch":"des","pressure":0.643,"adsorbed":667},{"branch":"des","pressure":0.605,"adsorbed":649},{"branch":"des","pressure":0.565,"adsorbed":634},{"branch":"des","pressure":0.542,"adsorbed":627},{"branch":"des","pressure":0.502,"adsorbed":616},{"branch":"des","pressure":0.466,"adsorbed":602},{"branch":"des","pressure":0.434,"adsorbed":587},{"branch":"des","pressure":0.403,"adsorbed":575},{"branch":"des","pressure":0.359,"adsorbed":569},{"branch":"des","pressure":0.321,"adsorbed":558},{"branch":"des","pressure":0.296,"adsorbed":542},{"branch":"des","pressure":0.258,"adsorbed":527},{"branch":"des","pressure":0.214,"adsorbed":514},{"branch":"des","pressure":0.19,"adsorbed":505},{"branch":"des","pressure":0.157,"adsorbed":491},{"branch":"des","pressure":0.121,"adsorbed":466},{"branch":"des","pressure":0.081,"adsorbed":435},{"branch":"des","pressure":0.05,"adsorbed":397}
    ]},"layer":[
     {"mark":{"type":"line","color":"#6AA810","strokeWidth":7},"encoding":{"detail":{"field":"branch"}}},
     {"mark":{"type":"point","shape":"circle","filled":true,"fill":"#CFE39A","stroke":"#6AA810","strokeWidth":3,"size":170,"opacity":1}}
    ]},
   {"data":{"values":[{"pressure":0.093,"p2":0.223,"adsorbed":1085}]},"mark":{"type":"rule","color":"#F28228","strokeWidth":8},"encoding":{"x2":{"field":"p2"}}},
   {"data":{"values":[{"pressure":0.155,"adsorbed":1085}]},"mark":{"type":"square","color":"#F28228","size":220,"opacity":1}},
   {"data":{"values":[{"pressure":0.242,"adsorbed":1085,"t":"TPE-A-P"}]},"mark":{"type":"text","align":"left","font":"Liberation Sans","fontSize":46,"color":"#F28228"},"encoding":{"text":{"field":"t"}}},
   {"data":{"values":[{"pressure":0.093,"p2":0.223,"adsorbed":985}]},"mark":{"type":"rule","color":"#6AA810","strokeWidth":7},"encoding":{"x2":{"field":"p2"}}},
   {"data":{"values":[{"pressure":0.155,"adsorbed":985}]},"mark":{"type":"point","shape":"circle","filled":true,"fill":"#CFE39A","stroke":"#6AA810","strokeWidth":3,"size":170,"opacity":1}},
   {"data":{"values":[{"pressure":0.242,"adsorbed":985,"t":"TPE-P"}]},"mark":{"type":"text","align":"left","font":"Liberation Sans","fontSize":46,"color":"#6AA810"},"encoding":{"text":{"field":"t"}}}
  ]},
 {"width":738,"height":1,"data":{"values":[]},"mark":"text"},
 {"width":1080,"height":886,
  "encoding":{
   "x":{"field":"x","type":"quantitative","scale":{"domain":[511.1,1556.4],"nice":false,"zero":false},"axis":null},
   "y":{"field":"y","type":"quantitative","scale":{"domain":[1567,105.6],"nice":false,"zero":false},
    "axis":{"title":"Potential (V) vs . NHE","titleFont":"Liberation Serif","titleFontSize":71,"titleFontWeight":"bold","titleColor":"black","labels":false,"ticks":false,"domain":false,"titleX":-330,"titleY":460,"titleBaseline":"middle"}}},
  "layer":[
   {"data":{"values":[{"x":88,"y":130,"t":"(e)"}]},"mark":{"type":"text","font":"Liberation Serif","fontWeight":"bold","fontSize":100},"encoding":{"text":{"field":"t"}}},
   {"data":{"values":[{"x":475,"x2":1350,"y":701},{"x":475,"x2":1350,"y":851},{"x":475,"x2":1350,"y":988}]},"mark":{"type":"rule","color":"black","strokeWidth":4,"strokeDash":[4,2]},"encoding":{"x2":{"field":"x2"}}},
   {"data":{"values":[{"x":513,"y":240,"y2":1305}]},"mark":{"type":"rule","color":"black","strokeWidth":4},"encoding":{"y2":{"field":"y2"}}},
   {"data":{"values":[{"x":710,"y":500,"y2":713},{"x":709,"y":838,"y2":1095},{"x":1128,"y":455,"y2":713},{"x":1128,"y":838,"y2":1080}]},"mark":{"type":"rule","color":"black","strokeWidth":4.5},"encoding":{"y2":{"field":"y2"}}},
   {"data":{"values":[{"x":513,"y":237},{"x":710,"y":495},{"x":1128,"y":451}]},"mark":{"type":"point","shape":"triangle-up","filled":true,"color":"black","size":300,"opacity":1}},
   {"data":{"values":[{"x":709,"y":1095},{"x":1128,"y":1080}]},"mark":{"type":"point","shape":"triangle-down","filled":true,"color":"black","size":300,"opacity":1}},
   {"data":{"values":[{"x":594,"x2":836,"y":333,"y2":467},{"x":1006,"x2":1248,"y":289,"y2":424}]},
    "mark":{"type":"rect","color":{"gradient":"linear","x1":0,"y1":0,"x2":0,"y2":1,"stops":[{"offset":0,"color":"#C3DAF0"},{"offset":0.5,"color":"#FFFFFF"},{"offset":1,"color":"#C3DAF0"}]}},"encoding":{"x2":{"field":"x2"},"y2":{"field":"y2"}}},
   {"data":{"values":[{"x":589,"x2":831,"y":1129,"y2":1263},{"x":1006,"x2":1248,"y":1127,"y2":1261}]},
    "mark":{"type":"rect","color":{"gradient":"linear","x1":0,"y1":0,"x2":0,"y2":1,"stops":[{"offset":0,"color":"#FFC000"},{"offset":0.5,"color":"#FFFFFF"},{"offset":1,"color":"#FFC000"}]}},"encoding":{"x2":{"field":"x2"},"y2":{"field":"y2"}}},
   {"data":{"values":[{"x":705,"y":407,"t":"−0.41 V"},{"x":1117,"y":361,"t":"−0.59 V"}]},"mark":{"type":"text","font":"Liberation Serif","fontWeight":"bold","fontSize":50,"color":"#2E75B6"},"encoding":{"text":{"field":"t"}}},
   {"data":{"values":[{"x":710,"y":1202,"t":"2.32 V"},{"x":1128,"y":1198,"t":"2.28 V"},{"x":721,"y":1375,"t":"TPE-A-P"}]},"mark":{"type":"text","font":"Liberation Serif","fontWeight":"bold","fontSize":50,"color":"#C55A11"},"encoding":{"text":{"field":"t"}}},
   {"data":{"values":[{"x":1140,"y":1375,"t":"TPE-P"}]},"mark":{"type":"text","font":"Liberation Serif","fontWeight":"bold","fontSize":50,"color":"#548235"},"encoding":{"text":{"field":"t"}}},
   {"data":{"values":[{"x":1468,"y":361,"t":"CB"}]},"mark":{"type":"text","font":"Liberation Serif","fontWeight":"bold","fontSize":52,"color":"#5B9BD5"},"encoding":{"text":{"field":"t"}}},
   {"data":{"values":[{"x":1463,"y":1205,"t":"VB"}]},"mark":{"type":"text","font":"Liberation Serif","fontWeight":"bold","fontSize":52,"color":"#FFC000"},"encoding":{"text":{"field":"t"}}},
   {"data":{"values":[{"x":1474,"y":693,"t":"0.68 V"},{"x":1470,"y":843,"t":"1.23 V"},{"x":1470,"y":995,"t":"1.78 V"}]},"mark":{"type":"text","font":"Liberation Serif","fontWeight":"bold","fontSize":50,"color":"black"},"encoding":{"text":{"field":"t"}}},
   {"data":{"values":[{"x":460,"y":240,"t":"(−)"},{"x":460,"y":1343,"t":"(+)"}]},"mark":{"type":"text","font":"Liberation Serif","fontSize":50,"color":"black"},"encoding":{"text":{"field":"t"}}},
   {"data":{"values":[{"x":456,"y":680,"t":"H₂O₂/O₂"},{"x":456,"y":857,"t":"O₂/H₂O"},{"x":466,"y":1005,"t":"H₂O₂/H₂O"}]},"mark":{"type":"text","align":"right","font":"Liberation Serif","fontSize":46,"color":"black"},"encoding":{"text":{"field":"t"}}},
   {"data":{"values":[{"x":612,"y":778,"t":"E"}]},"mark":{"type":"text","align":"right","font":"Liberation Serif","fontStyle":"italic","fontSize":47,"color":"black"},"encoding":{"text":{"field":"t"}}},
   {"data":{"values":[{"x":612,"y":778,"t":"g = 2.73 V"}]},"mark":{"type":"text","align":"left","font":"Liberation Serif","fontSize":47,"color":"black"},"encoding":{"text":{"field":"t"}}},
   {"data":{"values":[{"x":1022,"y":783,"t":"E"}]},"mark":{"type":"text","align":"right","font":"Liberation Serif","fontStyle":"italic","fontSize":51,"color":"black"},"encoding":{"text":{"field":"t"}}},
   {"data":{"values":[{"x":1022,"y":783,"t":"g = 2.87 V"}]},"mark":{"type":"text","align":"left","font":"Liberation Serif","fontSize":51,"color":"black"},"encoding":{"text":{"field":"t"}}}
  ]}
]}
]}
